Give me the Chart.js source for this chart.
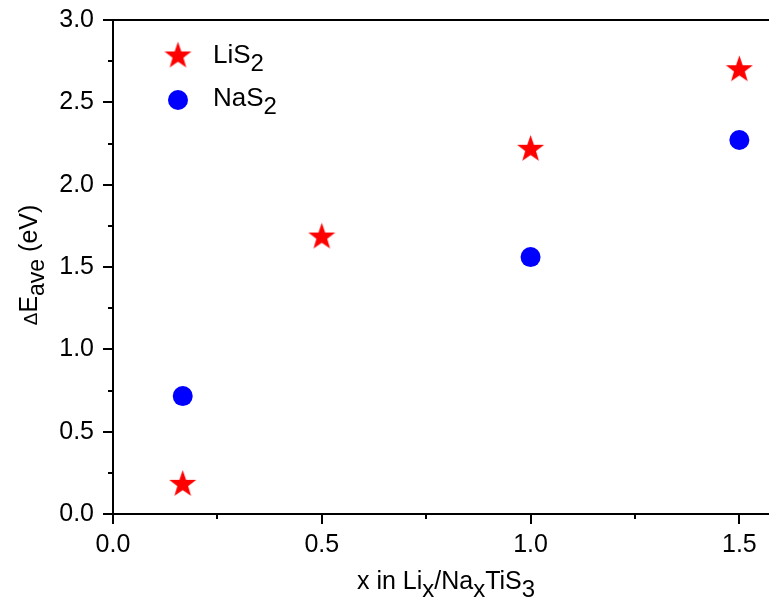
<!DOCTYPE html>
<html>
<head>
<meta charset="utf-8">
<script src="https://cdn.jsdelivr.net/npm/chart.js@4/dist/chart.umd.min.js"></script>
<style>
  html, body { margin: 0; padding: 0; background: #ffffff; }
  #wrap { width: 769px; height: 600px; position: relative; }
</style>
</head>
<body>
<div id="wrap"><canvas id="c" width="769" height="600"></canvas></div>
<script>
// ---- data ----
const liX = [0.167, 0.5, 1.0, 1.5];
const liY = [0.18, 1.682, 2.215, 2.698];
const naX = [0.167, 1.0, 1.5];
const naY = [0.716, 1.56, 2.271];
const seriesNames = ['LiS', 'NaS'];
const xMajorTicks = [0, 0.5, 1.0, 1.5];
const xMinorTicks = [0.25, 0.75, 1.25];
const yMajorTicks = [0, 0.5, 1.0, 1.5, 2.0, 2.5, 3.0];
const yMinorTicks = [0.25, 0.75, 1.25, 1.75, 2.25, 2.75];

const FONT = '"Liberation Sans", Arial, sans-serif';

function makeStar(R, color) {
  const size = Math.ceil(R * 2 + 4);
  const cv = document.createElement('canvas');
  cv.width = size; cv.height = size;
  const g = cv.getContext('2d');
  const cx = size / 2, cy = size / 2, r = R * 0.40;
  g.beginPath();
  for (let i = 0; i < 10; i++) {
    const rad = i % 2 === 0 ? R : r;
    const a = -Math.PI / 2 + i * Math.PI / 5;
    const px = cx + rad * Math.cos(a), py = cy + rad * Math.sin(a);
    if (i === 0) g.moveTo(px, py); else g.lineTo(px, py);
  }
  g.closePath();
  g.fillStyle = color;
  g.fill();
  return cv;
}
const starImg = makeStar(14.2, '#ff0000');

function drawRich(ctx, parts, x, y, align) {
  let total = 0;
  parts.forEach(p => { ctx.font = p.size + 'px ' + FONT; p.w = ctx.measureText(p.t).width; total += p.w + (p.gap || 0); });
  let cx = align === 'center' ? x - total / 2 : x;
  ctx.textBaseline = 'alphabetic';
  ctx.textAlign = 'left';
  parts.forEach(p => {
    ctx.font = p.size + 'px ' + FONT;
    ctx.fillText(p.t, cx, y + (p.dy || 0));
    cx += p.w + (p.gap || 0);
  });
}

const decor = {
  id: 'decor',
  afterDraw(chart) {
    const ctx = chart.ctx;
    const a = chart.chartArea;
    const xs = chart.scales.x, ys = chart.scales.y;
    ctx.save();
    ctx.strokeStyle = '#000';
    ctx.lineWidth = 2;
    // top frame line
    ctx.beginPath();
    ctx.moveTo(a.left - 1, a.top);
    ctx.lineTo(a.right, a.top);
    ctx.stroke();
    // ticks
    ctx.beginPath();
    xMajorTicks.forEach(v => { const px = Math.round(xs.getPixelForValue(v)); ctx.moveTo(px, a.bottom); ctx.lineTo(px, a.bottom + 10); });
    xMinorTicks.forEach(v => { const px = Math.round(xs.getPixelForValue(v)); ctx.moveTo(px, a.bottom); ctx.lineTo(px, a.bottom + 5); });
    yMajorTicks.forEach(v => { const py = Math.round(ys.getPixelForValue(v)); ctx.moveTo(a.left, py); ctx.lineTo(a.left - 10, py); });
    yMinorTicks.forEach(v => { const py = Math.round(ys.getPixelForValue(v)); ctx.moveTo(a.left, py); ctx.lineTo(a.left - 5, py); });
    ctx.stroke();

    ctx.fillStyle = '#000';
    // x title
    drawRich(ctx, [
      { t: 'x in Li', size: 25 },
      { t: 'x', size: 24, dy: 8 },
      { t: '/Na', size: 25 },
      { t: 'x', size: 24, dy: 8 },
      { t: 'TiS', size: 25 },
      { t: '3', size: 24, dy: 8 }
    ], 446, 589, 'center');

    // y title
    ctx.save();
    ctx.translate(37, 265);
    ctx.rotate(-Math.PI / 2);
    drawRich(ctx, [
      { t: '\u0394', size: 19 },
      { t: 'E', size: 25 },
      { t: 'ave', size: 23, dy: 7 },
      { t: ' (eV)', size: 25 }
    ], 0, 0, 'center');
    ctx.restore();

    // legend
    ctx.drawImage(starImg, 178 - starImg.width / 2, 56 - starImg.height / 2);
    ctx.beginPath();
    ctx.fillStyle = '#0000ff';
    ctx.arc(178, 100, 10, 0, Math.PI * 2);
    ctx.fill();
    ctx.fillStyle = '#000';
    drawRich(ctx, [{ t: seriesNames[0], size: 26 }, { t: '2', size: 24, dy: 8 }], 213, 63, 'left');
    drawRich(ctx, [{ t: seriesNames[1], size: 26 }, { t: '2', size: 24, dy: 8 }], 213, 106, 'left');
    ctx.restore();
  }
};

new Chart(document.getElementById('c'), {
  type: 'scatter',
  data: {
    datasets: [
      {
        label: 'LiS2',
        data: liX.map((x, i) => ({ x, y: liY[i] })),
        pointStyle: starImg,
        pointRadius: 14,
        backgroundColor: '#ff0000',
        borderColor: '#ff0000'
      },
      {
        label: 'NaS2',
        data: naX.map((x, i) => ({ x, y: naY[i] })),
        pointStyle: 'circle',
        pointRadius: 10,
        borderWidth: 0,
        backgroundColor: '#0000ff',
        borderColor: '#0000ff'
      }
    ]
  },
  options: {
    responsive: false,
    animation: false,
    layout: { autoPadding: false, padding: { top: 20, right: 0, left: 0, bottom: 0 } },
    plugins: { legend: { display: false }, tooltip: { enabled: false } },
    scales: {
      x: {
        type: 'linear',
        min: 0,
        max: 1.571,
        afterFit: s => { s.height = 86; s.paddingLeft = 0; s.paddingRight = 0; },
        border: { display: true, color: '#000', width: 2 },
        grid: { display: false, drawTicks: false },
        ticks: {
          stepSize: 0.5,
          includeBounds: false,
          padding: 16,
          color: '#000',
          font: { family: FONT, size: 25 },
          callback: v => Number(v).toFixed(1)
        }
      },
      y: {
        type: 'linear',
        min: 0,
        max: 3,
        afterFit: s => { s.width = 113; s.paddingTop = 0; s.paddingBottom = 0; },
        border: { display: true, color: '#000', width: 2 },
        grid: { display: false, drawTicks: false },
        ticks: {
          stepSize: 0.5,
          padding: 19,
          color: '#000',
          font: { family: FONT, size: 25 },
          callback: v => Number(v).toFixed(1)
        }
      }
    }
  },
  plugins: [decor]
});
</script>
</body>
</html>
